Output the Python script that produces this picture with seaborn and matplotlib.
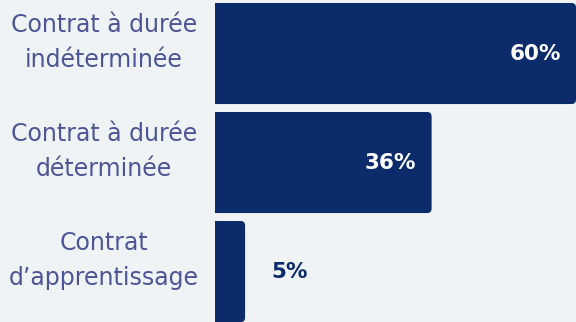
import matplotlib
matplotlib.use("Agg")
import matplotlib.pyplot as plt
import matplotlib.transforms as mtransforms
from matplotlib.patches import FancyBboxPatch
import seaborn as sns
import pandas as pd

# data
categories = ["Contrat à durée\nindéterminée",
              "Contrat à durée\ndéterminée",
              "Contrat\nd’apprentissage"]
values = [60, 36, 5]

BG = "#eff3f5"
NAVY = "#0c2b6b"
LABEL = "#4c5595"

sns.set_theme(style="white")
plt.rcParams["font.family"] = ["DejaVu Sans"]

df = pd.DataFrame({"cat": categories, "val": values})

fig = plt.figure(figsize=(5.76, 3.22), dpi=100, facecolor=BG)
ax = fig.add_axes([215 / 576, 0, 1 - 215 / 576, 1])
ax.set_facecolor(BG)

sns.barplot(data=df, x="val", y="cat", orient="h", color=NAVY,
            width=0.927, saturation=1, ax=ax)

ax.set_xlim(0, max(values))
ax.set_ylim(2.463, -0.491)

# swap the square bars for ones with rounded right corners
px_x = (576 - 215) / max(values)
px_y = 322 / (2.463 + 0.491)
for p in list(ax.patches):
    x0, y0, w, h = p.get_x(), p.get_y(), p.get_width(), p.get_height()
    p.remove()
    fb = FancyBboxPatch((x0 - 2, y0), w + 2, h,
                        boxstyle="round,pad=0,rounding_size=0.75",
                        mutation_aspect=px_x / px_y,
                        facecolor=NAVY, edgecolor="none", clip_on=True)
    ax.add_patch(fb)

# value labels
for i, v in enumerate(values):
    if v >= 10:
        ax.annotate(f"{v}%", (v, i), xytext=(-11, 0), textcoords="offset points",
                    ha="right", va="center", color="white",
                    fontsize=15.5, fontweight="bold")
    else:
        ax.annotate(f"{v}%", (v, i), xytext=(19, 0), textcoords="offset points",
                    ha="left", va="center", color=NAVY,
                    fontsize=15.5, fontweight="bold")

# category labels, centred in the left margin
trans = mtransforms.blended_transform_factory(fig.transFigure, ax.transData)
for i, c in enumerate(categories):
    t = ax.text(104 / 576, i, c, transform=trans, ha="center", va="center",
                color=LABEL, fontsize=17, linespacing=1.55, clip_on=False)
    t.set_transform(trans + mtransforms.ScaledTranslation(0, 8 / 72, fig.dpi_scale_trans))

ax.set_xlabel("")
ax.set_ylabel("")
ax.set_xticks([])
ax.set_yticks([])
sns.despine(ax=ax, left=True, bottom=True)

fig.savefig("out.png", dpi=100, facecolor=BG)
